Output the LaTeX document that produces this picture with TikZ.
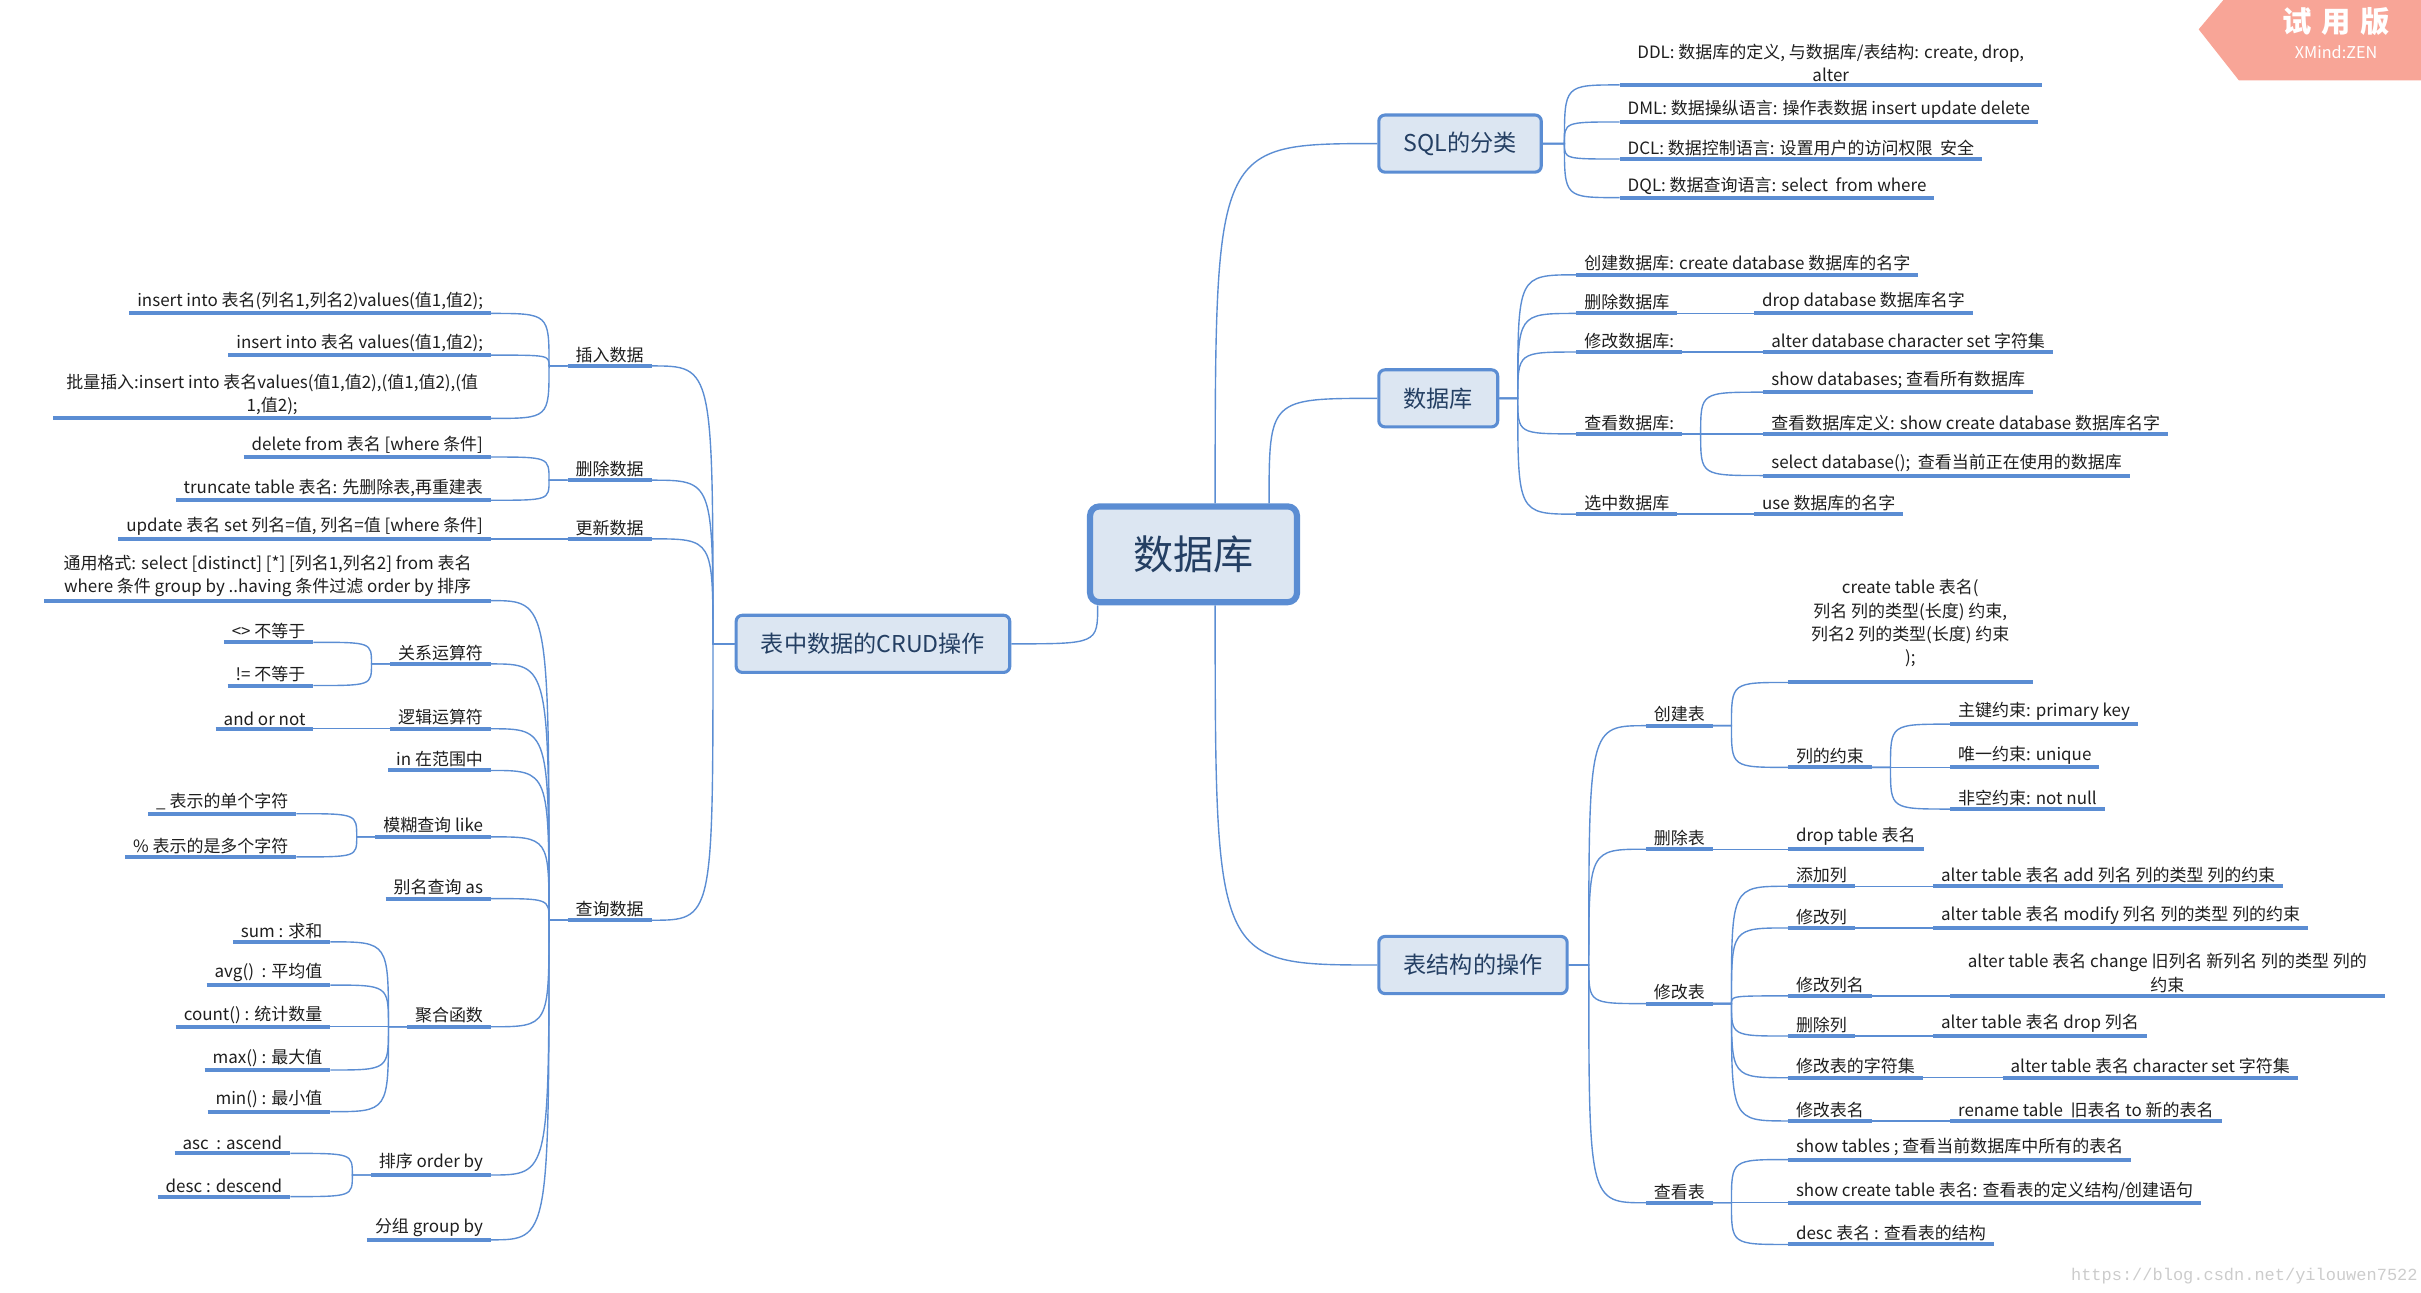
\documentclass[tikz,border=0pt]{standalone}
\usepackage{fontspec}
\setmainfont{Noto Sans CJK SC}
\setmonofont{Liberation Mono}
\usepackage{tikz}
\usetikzlibrary{calc}
\definecolor{xblue}{HTML}{5B8DD3}
\definecolor{xfill}{HTML}{DCE6F2}
\definecolor{xnavy}{HTML}{243F63}
\definecolor{xtext}{HTML}{1E1E1E}
\definecolor{wmark}{HTML}{F8A597}

\begin{document}
\begin{tikzpicture}[
  x=1pt, y=-1pt,
  font=\fontsize{11}{15}\selectfont,
  root/.style={draw=xblue, line width=4pt, fill=xfill, rounded corners=6pt,
    text=xnavy, font=\fontsize{26}{30}\selectfont,
    minimum width=134pt, minimum height=62pt},
  topic/.style={draw=xblue, line width=2pt, fill=xfill, rounded corners=4pt,
    text=xnavy, font=\fontsize{15}{18}\selectfont,
    inner xsep=16pt, minimum height=37pt},
  uline/.style={draw=xblue, line width=2.6pt},
  leaf/.style={inner xsep=5pt, inner ysep=2pt, text=xtext,
    append after command={(\tikzlastnode.south west) edge[uline] (\tikzlastnode.south east)}},
  rleaf/.style={leaf, anchor=south west},
  lleaf/.style={leaf, anchor=south east},
  link/.style={draw=xblue, line width=0.9pt},
  branch/.style={to path={.. controls (\tikztostart |- \tikztotarget) .. (\tikztotarget)}}
]
  \useasboundingbox (0,0) rectangle (1568,837);

  \node[root] (root) at (773,359) {数据库};
  \node[topic, anchor=west] (sqlcls) at (892,93) {SQL的分类};
  \node[topic, anchor=west] (db) at (892,258) {数据库};
  \node[topic, anchor=west] (tblop) at (892,625) {表结构的操作};
  \node[topic, anchor=east] (crud) at (655,417) {表中数据的CRUD操作};

  \node[rleaf, align=center, minimum width=273pt] (ddl) at (1049,55) {DDL: 数据库的定义, 与数据库/表结构: create, drop,\\alter};
  \node[rleaf] (dml) at (1049,79) {DML: 数据操纵语言: 操作表数据 insert update delete};
  \node[rleaf] (dcl) at (1049,103) {DCL: 数据控制语言: 设置用户的访问权限\ \ 安全};
  \node[rleaf] (dql) at (1049,128) {DQL: 数据查询语言: select\ \ from where};

  \node[rleaf] (mkdb) at (1021,178) {创建数据库: create database 数据库的名字};
  \node[rleaf] (rmdb) at (1021,203) {删除数据库};
  \node[rleaf] (rmdbsql) at (1136,203) {drop database 数据库名字};
  \node[rleaf] (altdb) at (1021,228) {修改数据库:};
  \node[rleaf] (altdbsql) at (1142,228) {alter database character set 字符集};
  \node[rleaf] (showdb) at (1021,281) {查看数据库:};
  \node[rleaf] (showall) at (1142,254) {show databases; 查看所有数据库};
  \node[rleaf] (showdef) at (1142,281) {查看数据库定义: show create database 数据库名字};
  \node[rleaf] (showcur) at (1142,308) {select database();\ \ 查看当前正在使用的数据库};
  \node[rleaf] (usedb) at (1021,333) {选中数据库};
  \node[rleaf] (usedbsql) at (1136,333) {use 数据库的名字};

  \node[rleaf] (mktbl) at (1066,470) {创建表};
  \node[rleaf, align=center, minimum width=158pt, inner ysep=10pt] (mktblsql) at (1158,442)
    {create table 表名(\\列名 列的类型(长度) 约束,\\列名2 列的类型(长度) 约束\\);};
  \node[rleaf] (colcons) at (1158,497) {列的约束};
  \node[rleaf] (pk) at (1263,469) {主键约束: primary key};
  \node[rleaf] (uq) at (1263,497) {唯一约束: unique};
  \node[rleaf] (nn) at (1263,524) {非空约束: not null};
  \node[rleaf] (rmtbl) at (1066,550) {删除表};
  \node[rleaf] (rmtblsql) at (1158,550) {drop table 表名};
  \node[rleaf] (alttbl) at (1066,650) {修改表};
  \node[rleaf] (addcol) at (1158,574) {添加列};
  \node[rleaf] (addcolsql) at (1252,574) {alter table 表名 add 列名 列的类型 列的约束};
  \node[rleaf] (modcol) at (1158,601) {修改列};
  \node[rleaf] (modcolsql) at (1252,601) {alter table 表名 modify 列名 列的类型 列的约束};
  \node[rleaf] (rencol) at (1158,645) {修改列名};
  \node[rleaf, align=center, minimum width=281pt] (rencolsql) at (1263,645)
    {alter table 表名 change 旧列名 新列名 列的类型 列的\\约束};
  \node[rleaf] (dropcol) at (1158,671) {删除列};
  \node[rleaf] (dropcolsql) at (1252,671) {alter table 表名 drop 列名};
  \node[rleaf] (tblchar) at (1158,698) {修改表的字符集};
  \node[rleaf] (tblcharsql) at (1297,698) {alter table 表名 character set 字符集};
  \node[rleaf] (rentbl) at (1158,726) {修改表名};
  \node[rleaf] (rentblsql) at (1263,726) {rename table\ \ 旧表名 to 新的表名};
  \node[rleaf] (showtbl) at (1066,779) {查看表};
  \node[rleaf] (lstbl) at (1158,751) {show tables ; 查看当前数据库中所有的表名};
  \node[rleaf] (deftbl) at (1158,779) {show create table 表名: 查看表的定义结构/创建语句};
  \node[rleaf] (desctbl) at (1158,806) {desc 表名 : 查看表的结构};

  \node[lleaf] (ins) at (422,237) {插入数据};
  \node[lleaf] (ins1) at (318,203) {insert into 表名(列名1,列名2)values(值1,值2);};
  \node[lleaf] (ins2) at (318,230) {insert into 表名 values(值1,值2);};
  \node[lleaf, align=center, minimum width=283pt] (ins3) at (318,271)
    {批量插入:insert into 表名values(值1,值2),(值1,值2),(值\\1,值2);};
  \node[lleaf] (del) at (422,311) {删除数据};
  \node[lleaf] (del1) at (318,296) {delete from 表名 [where 条件]};
  \node[lleaf] (del2) at (318,324) {truncate table 表名: 先删除表,再重建表};
  \node[lleaf] (upd) at (422,349) {更新数据};
  \node[lleaf] (upd1) at (318,349) {update 表名 set 列名=值, 列名=值 [where 条件]};
  \node[lleaf] (qry) at (422,596) {查询数据};
  \node[lleaf, align=center, minimum width=289pt] (qfmt) at (318,389)
    {通用格式: select [distinct] [*] [列名1,列名2] from 表名\\where 条件 group by ..having 条件过滤 order by 排序};
  \node[lleaf] (rel) at (318,430) {关系运算符};
  \node[lleaf] (ne1) at (203,416) {<> 不等于};
  \node[lleaf] (ne2) at (203,444) {!= 不等于};
  \node[lleaf] (logic) at (318,472) {逻辑运算符};
  \node[lleaf] (logic1) at (203,472) {and or not};
  \node[lleaf] (inrng) at (318,499) {in 在范围中};
  \node[lleaf] (like) at (318,542) {模糊查询 like};
  \node[lleaf] (like1) at (192,527) {\_ 表示的单个字符};
  \node[lleaf] (like2) at (192,555) {\% 表示的是多个字符};
  \node[lleaf] (alias) at (318,582) {别名查询 as};
  \node[lleaf] (agg) at (318,665) {聚合函数};
  \node[lleaf] (sum) at (214,610) {sum : 求和};
  \node[lleaf] (avg) at (214,638) {avg()\ \ : 平均值};
  \node[lleaf] (cnt) at (214,665) {count() : 统计数量};
  \node[lleaf] (max) at (214,693) {max() : 最大值};
  \node[lleaf] (min) at (214,720) {min() : 最小值};
  \node[lleaf] (ord) at (318,761) {排序 order by};
  \node[lleaf] (asc) at (188,747) {asc\ \ : ascend};
  \node[lleaf] (desc) at (188,775) {desc : descend};
  \node[lleaf] (grp) at (318,803) {分组 group by};

  \draw[link] (root.67) to[branch] (sqlcls.west);
  \draw[link] (root.34) to[branch] (db.west);
  \draw[link] (root.-67) to[branch] (tblop.west);
  \draw[link] (root.208) to[branch] (crud.east);

  \foreach \c in {ddl,dml,dcl,dql}
    \draw[link] (sqlcls.east) -- ++(14,0) to[branch] (\c.south west);
  \foreach \c in {mkdb,rmdb,altdb,showdb,usedb}
    \draw[link] (db.east) -- ++(12,0) to[branch] (\c.south west);
  \foreach \c in {mktbl,rmtbl,alttbl,showtbl}
    \draw[link] (tblop.east) -- ++(13,0) to[branch] (\c.south west);
  \foreach \p/\c in {rmdb/rmdbsql,altdb/altdbsql,showdb/showall,showdb/showdef,showdb/showcur,
      usedb/usedbsql,mktbl/mktblsql,mktbl/colcons,colcons/pk,colcons/uq,colcons/nn,
      rmtbl/rmtblsql,alttbl/addcol,alttbl/modcol,alttbl/rencol,alttbl/dropcol,
      alttbl/tblchar,alttbl/rentbl,addcol/addcolsql,modcol/modcolsql,rencol/rencolsql,
      dropcol/dropcolsql,tblchar/tblcharsql,rentbl/rentblsql,showtbl/lstbl,
      showtbl/deftbl,showtbl/desctbl}
    \draw[link] (\p.south east) -- ++(12,0) to[branch] (\c.south west);

  \foreach \c in {ins,del,upd,qry}
    \draw[link] (crud.west) -- ++(-14,0) to[branch] (\c.south east);
  \foreach \p/\c in {ins/ins1,ins/ins2,ins/ins3,del/del1,del/del2,upd/upd1,
      qry/qfmt,qry/rel,qry/logic,qry/inrng,qry/like,qry/alias,qry/agg,qry/ord,qry/grp,
      rel/ne1,rel/ne2,logic/logic1,like/like1,like/like2,
      agg/sum,agg/avg,agg/cnt,agg/max,agg/min,ord/asc,ord/desc}
    \draw[link] (\p.south west) -- ++(-12,0) to[branch] (\c.south east);

  \fill[wmark] (1568,0) -- (1440,0) -- (1424,19) -- (1450,52) -- (1568,52) -- cycle;
  \node[text=white, font=\bfseries\fontsize{19}{21}\selectfont] (trial) at (1513,14)
    {试\hspace{6pt}用\hspace{6pt}版};
  \node[text=white, font=\fontsize{10.5}{12}\selectfont] (xmz) at (1513,34) {XMind:ZEN};
  \node[text=gray!40, font=\ttfamily\fontsize{11}{13}\selectfont, anchor=south east, inner sep=0pt]
    (url) at (1566,832) {https://blog.csdn.net/yilouwen7522};
\end{tikzpicture}
\end{document}
